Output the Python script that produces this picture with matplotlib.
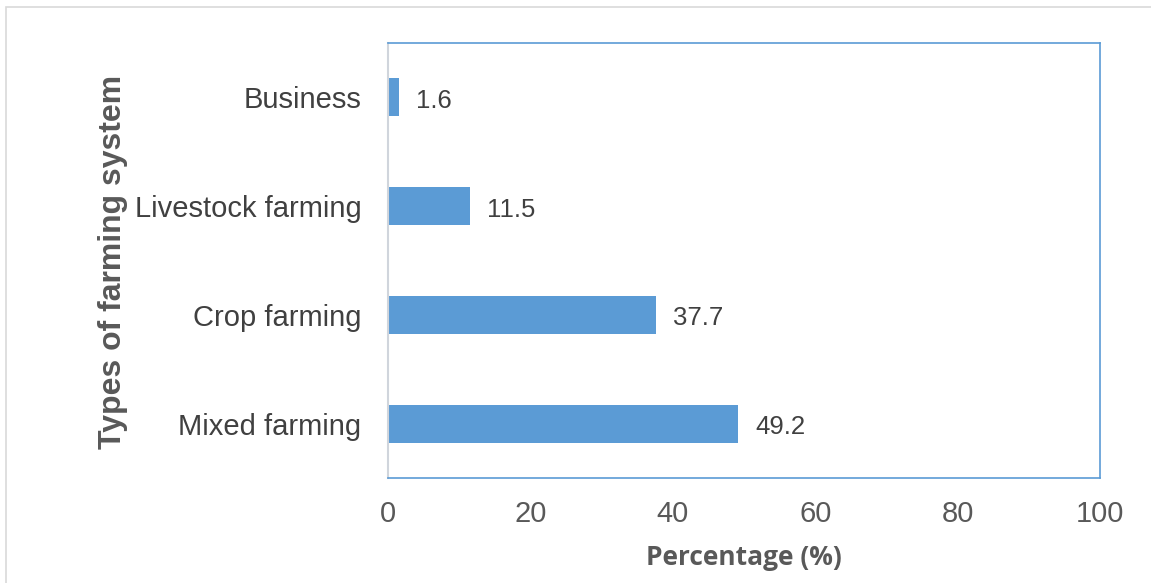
import matplotlib.pyplot as plt
from matplotlib.patches import Rectangle

# data
categories = ["Mixed farming", "Crop farming", "Livestock farming", "Business"]
values = [49.2, 37.7, 11.5, 1.6]
xticks = [0, 20, 40, 60, 80, 100]

bar_color = "#5b9bd5"
text_color = "#404040"

W, H = 1151, 583
fig = plt.figure(figsize=(W / 100, H / 100), dpi=100)
ax = fig.add_axes([388 / W, 1 - 478 / H, (1100 - 388) / W, (478 - 43) / H])

ax.barh(range(len(categories)), values, height=0.35, color=bar_color)

# value labels next to each bar
for i, v in enumerate(values):
    ax.annotate(str(v), xy=(v, i), xytext=(12, -2.5), textcoords="offset points",
                va="center", ha="left", fontsize=18.5, color=text_color,
                family="Liberation Sans")

ax.set_xlim(0, 100)
ax.set_ylim(-0.5, len(categories) - 0.5)
ax.set_xticks(xticks)
ax.set_xticklabels([str(t) for t in xticks], fontsize=21, color="#595959",
                   family="Liberation Sans")
ax.set_yticks(range(len(categories)))
ax.set_yticklabels(categories, fontsize=21, color=text_color, family="Liberation Sans")
ax.tick_params(axis="both", length=0)
ax.tick_params(axis="x", pad=15.5)
ax.tick_params(axis="y", pad=19)

for side in ["top", "right", "bottom"]:
    ax.spines[side].set_color(bar_color)
    ax.spines[side].set_linewidth(1.2)
ax.spines["left"].set_color("#d0d5dc")
ax.spines["left"].set_linewidth(1.5)

ax.set_xlabel("Percentage (%)", fontsize=19, fontweight="bold", color="#595959",
              family="Open Sans", labelpad=12)
fig.text(113 / W, 1 - 262 / H, "Types of farming system", rotation=90,
         ha="center", va="center", fontsize=23, fontweight="bold",
         color="#595959", family="Liberation Sans")

# light gray frame around the chart area
fig.patches.append(Rectangle((6 / W, -0.05), 1.2, 1 - 7 / H + 0.05,
                             transform=fig.transFigure, fill=False,
                             edgecolor="#d9d9d9", linewidth=1.2))

fig.savefig("out.png", dpi=100)
